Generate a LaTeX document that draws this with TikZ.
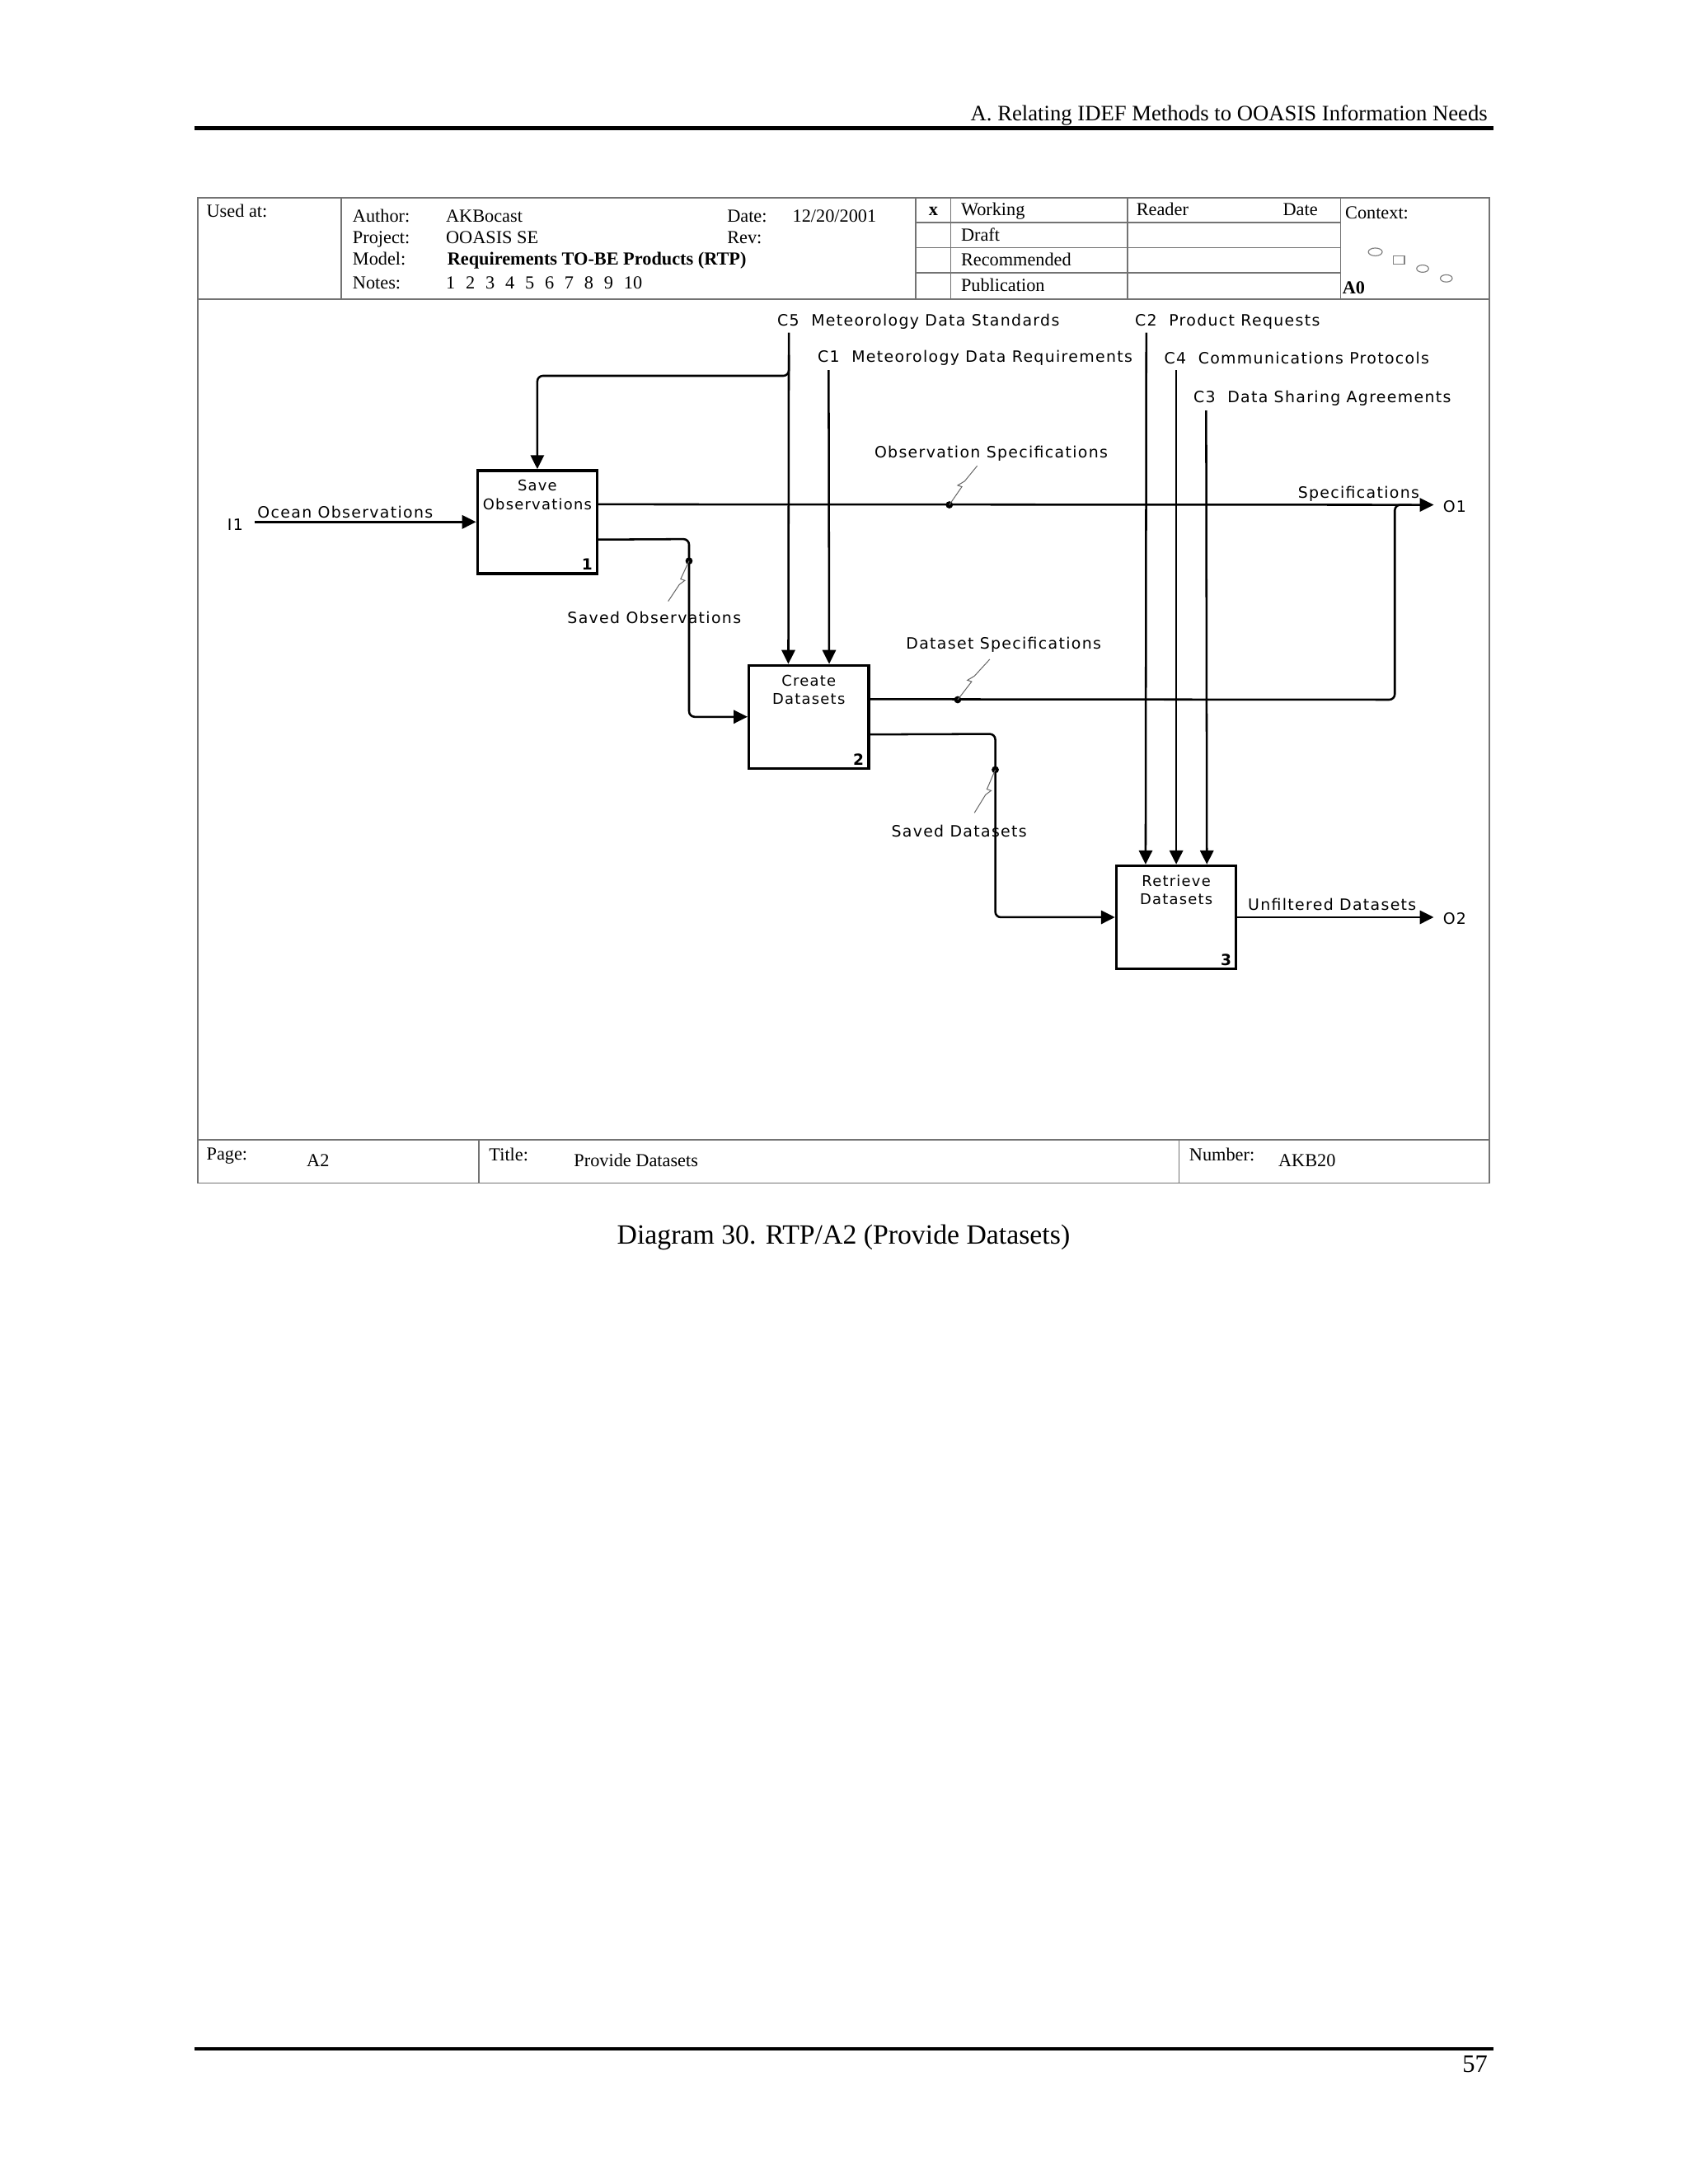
\documentclass[tikz,border=0pt]{standalone}
\usepackage{fontspec}
\setmainfont{Liberation Serif}
\newfontfamily\lblfont[LetterSpace=7]{DejaVu Sans}
\usetikzlibrary{arrows.meta,calc}
\newcommand\ntgap{\hspace{3.8pt}}
\begin{document}
\begin{tikzpicture}[x=0.5pt,y=-0.5pt,
  frame/.style={draw=black!55, line width=0.5pt},
  ft/.style={inner sep=0pt, anchor=base west, font=\fontsize{6.6}{7.9}\selectfont},
  lb/.style={inner sep=0pt, font=\lblfont\fontsize{5.6}{6.7}\selectfont},
  bl/.style={inner sep=0pt, font=\lblfont\fontsize{5.3}{6.4}\selectfont},
  num/.style={inner sep=0pt, anchor=south east, font=\lblfont\bfseries\fontsize{5.5}{6.6}\selectfont},
  bx/.style={draw, line width=1pt, minimum width=43pt, minimum height=37pt, inner sep=0pt},
  flow/.style={line width=0.75pt, rounded corners=2pt},
  arr/.style={flow, -{Triangle[length=5pt,width=4.8pt]}},
  dotn/.style={circle, fill, inner sep=0pt, minimum size=2.6pt},
  sq/.style={draw=black!60, line width=0.3pt},
  ico/.style={draw=black!50, line width=0.35pt}]
\useasboundingbox (0,0) rectangle (1212.5,1569.1);

% page header / footer
\node[inner sep=0pt, anchor=base east, font=\fontsize{7.9}{9.5}\selectfont] (hdr) at (1069,87) {A. Relating IDEF Methods to OOASIS Information Needs};
\draw[line width=1.5pt] (140,92) -- (1073,92);
\draw[line width=1pt] (140,1472) -- (1073,1472);
\node[inner sep=0pt, anchor=base east, font=\fontsize{9}{11}\selectfont] (pg) at (1069,1489) {57};
\node[inner sep=0pt, font=\fontsize{10}{12}\selectfont] (cap) at (606,889) {Diagram 30. RTP/A2 (Provide Datasets)};

% form frame
\draw[frame] (142,142) rectangle (1070,850);
\draw[frame] (142,215) -- (1070,215);
\draw[frame] (142,819) -- (1070,819);
\foreach \xx in {245,658,683,810,963} \draw[frame] (\xx,142) -- (\xx,215);
\foreach \yy in {160,178,196} \draw[frame] (658,\yy) -- (963,\yy);
\draw[frame] (344,819) -- (344,850);
\draw[frame] (847,819) -- (847,850);

% form texts
\node[ft] (usedat) at (148,156) {Used at:};
\node[ft] (author) at (253,159.5) {Author:};
\node[ft] (authorv) at (320,159.5) {AKBocast};
\node[ft] (date) at (522,159.5) {Date:};
\node[ft] (datev) at (569,159.5) {12/20/2001};
\node[ft] (proj) at (253,175) {Project:};
\node[ft] (projv) at (320,175) {OOASIS SE};
\node[ft] (rev) at (522,175) {Rev:};
\node[ft] (model) at (253,190.5) {Model:};
\node[ft, font=\bfseries\fontsize{6.6}{7.9}\selectfont] (modelv) at (321,190.5) {Requirements TO-BE Products (RTP)};
\node[ft] (notes) at (253,207.5) {Notes:};
\node[ft] (notesv) at (320,207.5) {1\ntgap 2\ntgap 3\ntgap 4\ntgap 5\ntgap 6\ntgap 7\ntgap 8\ntgap 9\ntgap 10};
\node[ft, anchor=base, font=\bfseries\fontsize{6.6}{7.9}\selectfont] (xmark) at (670.5,155) {x};
\node[ft] (working) at (690,155) {Working};
\node[ft] (draft) at (690,173) {Draft};
\node[ft] (recom) at (690,191) {Recommended};
\node[ft] (publ) at (690,209.5) {Publication};
\node[ft] (reader) at (816,155) {Reader};
\node[ft, anchor=base east] (rdate) at (947,155) {Date};
\node[ft] (context) at (966,157) {Context:};
\node[ft, font=\bfseries\fontsize{6.6}{7.9}\selectfont] (a0) at (964,211) {A0};
\draw[ico] (988,181) ellipse [x radius=5, y radius=2.8];
\draw[ico] (1001,184) rectangle (1009,190);
\draw[ico] (1022,193) ellipse [x radius=4.3, y radius=2.6];
\draw[ico] (1039,200) ellipse [x radius=4.3, y radius=2.6];
\node[ft] (page) at (148,833.5) {Page:};
\node[ft] (pagev) at (220,838) {A2};
\node[ft] (title) at (351,834) {Title:};
\node[ft] (titlev) at (412,838) {Provide Datasets};
\node[ft] (number) at (854,834) {Number:};
\node[ft] (numberv) at (918,838) {AKB20};

% activity boxes
\node[bx] (b1) at (386,375) {};
\node[bx] (b2) at (581,515) {};
\node[bx] (b3) at (845,659) {};
\node[bl] (t1a) at (386,349) {Save};
\node[bl] (t1b) at (386,362) {Observations};
\node[bl] (t2a) at (581,489) {Create};
\node[bl] (t2b) at (581,502) {Datasets};
\node[bl] (t3a) at (845,633) {Retrieve};
\node[bl] (t3b) at (845,646) {Datasets};
\node[num] (n1) at ($(b1.south east)+(-4,-3)$) {1};
\node[num] (n2) at ($(b2.south east)+(-4,-3)$) {2};
\node[num] (n3) at ($(b3.south east)+(-4,-3)$) {3};

% anchor points on boxes
\coordinate (b1o1) at ($(b1.north east)!1/3!(b1.south east)$);
\coordinate (b1o2) at ($(b1.north east)!2/3!(b1.south east)$);
\coordinate (b2o1) at ($(b2.north east)!1/3!(b2.south east)$);
\coordinate (b2o2) at ($(b2.north east)!2/3!(b2.south east)$);
\coordinate (b2c1) at ($(b2.north west)!1/3!(b2.north east)$);
\coordinate (b2c2) at ($(b2.north west)!2/3!(b2.north east)$);
\coordinate (b3c1) at ($(b3.north west)!1/4!(b3.north east)$);
\coordinate (b3c2) at ($(b3.north west)!1/2!(b3.north east)$);
\coordinate (b3c3) at ($(b3.north west)!3/4!(b3.north east)$);

% free ends
\coordinate (i1s) at (183,375);
\coordinate (c5s) at (566.7,239);
\coordinate (c1s) at (595.3,266);
\coordinate (c2s) at (823.5,239);
\coordinate (c4s) at (845,266);
\coordinate (c3s) at (866.5,295);
\coordinate (o1e) at (1030,362.7);
\coordinate (o2e) at (1030,659);

% boundary labels
\node[lb] (li1) at (169,377) {I1};
\node[lb] (locean) at (248,368) {Ocean Observations};
\node[lb, anchor=west] (lc5) at (558,231) {C5\ \ Meteorology Data Standards};
\node[lb, anchor=west] (lc1) at (587,257) {C1\ \ Meteorology Data Requirements};
\node[lb, anchor=west] (lc2) at (815,231) {C2\ \ Product Requests};
\node[lb, anchor=west] (lc4) at (836,257) {C4\ \ Communications Protocols};
\node[lb, anchor=west] (lc3) at (857,286) {C3\ \ Data Sharing Agreements};
\node[lb] (lo1) at (1045,364) {O1};
\node[lb] (lo2) at (1045,660) {O2};
\node[lb] (lspec) at (976,355) {Specifications};
\node[lb] (lobs) at (712,326) {Observation Specifications};
\node[lb] (ldspec) at (721,463) {Dataset Specifications};
\node[lb] (lsobs) at (470,444) {Saved Observations};
\node[lb] (lsds) at (689,597) {Saved Datasets};
\node[lb] (lunf) at (957,650) {Unfiltered Datasets};

% connectors
\draw[arr] (i1s) -- (b1.west);
\draw[arr] (c5s) -- (b2c1);
\draw[arr] (566.7,255) -- (566.7,270) -- (386,270) -- (b1.north);
\draw[arr] (c1s) -- (b2c2);
\draw[arr] (c2s) -- (b3c1);
\draw[arr] (c4s) -- (b3c2);
\draw[arr] (c3s) -- (b3c3);
\draw[arr] (b1o1) -- (o1e);
\draw[flow] (b2o1) -- (1002,502.7) -- (1002,362.7) -- (1014,362.7);
\draw[arr] (b1o2) -- (495,387.3) -- (495,515) -- (b2.west);
\draw[arr] (b2o2) -- (715,527.3) -- (715,659) -- (b3.west);
\draw[arr] (b3.east) -- (o2e);

% branch dots and squiggles
\node[dotn] (d1) at (682,362.7) {};
\node[dotn] (d2) at (688,502.7) {};
\node[dotn] (d3) at (495,403) {};
\node[dotn] (d4) at (715,553) {};
\draw[sq] (d1.center) -- ++(9,-13) -- ++(-3,-1) -- ++(5,-3) -- ++(9,-11);
\draw[sq] (d2.center) -- ++(10,-13) -- ++(-3,-1) -- ++(5,-3) -- ++(11,-12);
\draw[sq] (d3.center) -- ++(-6,13) -- ++(3,1) -- ++(-4,3) -- ++(-8,12);
\draw[sq] (d4.center) -- ++(-6,14) -- ++(3,1) -- ++(-4,3) -- ++(-8,13);
\end{tikzpicture}
\end{document}
